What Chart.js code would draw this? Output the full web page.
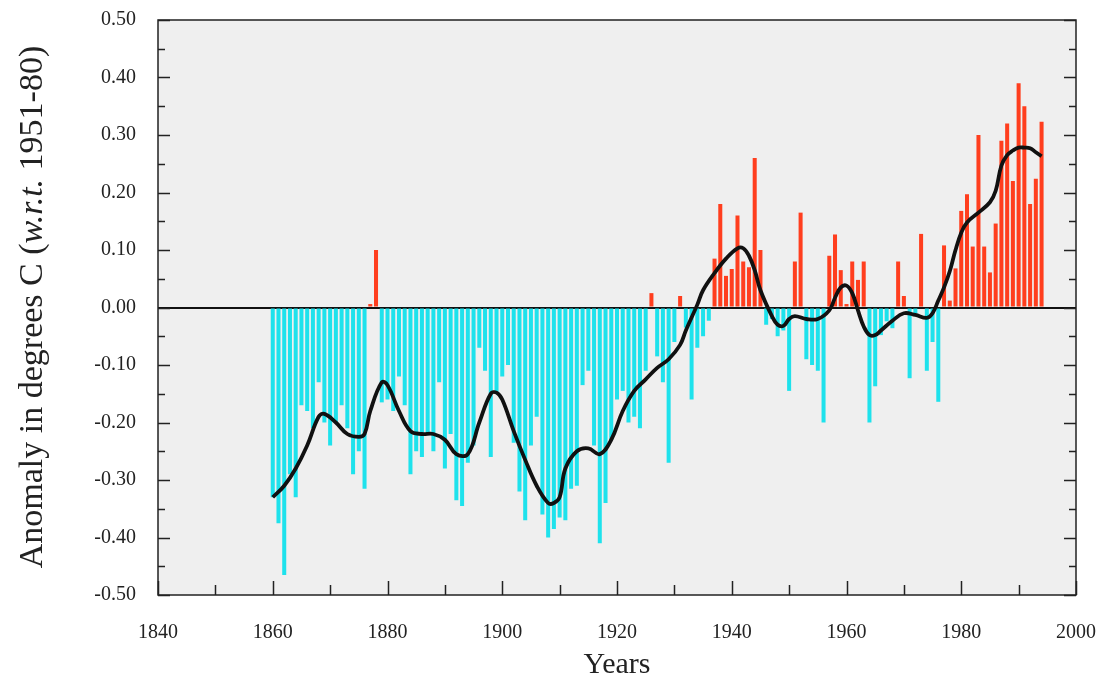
<!DOCTYPE html>
<html>
<head>
<meta charset="utf-8">
<script src="https://cdn.jsdelivr.net/npm/chart.js@4.4.0/dist/chart.umd.min.js"></script>
<style>
    html, body { margin: 0; padding: 0; background: #fff; }
    #wrap { width: 1107px; height: 683px; }
</style>
</head>
<body>
<div id="wrap"><canvas id="graficoAnomalia" width="1107" height="683"></canvas></div>
<script>
// Dados: anomalia anual (1860-1994) e curva suavizada
const firstYear = 1860;
const anomalies = [
    -0.33, -0.375, -0.465, -0.29, -0.33, -0.17, -0.18, -0.21, -0.13, -0.20,   // 1860-1869
    -0.24, -0.20, -0.17, -0.21, -0.29, -0.25, -0.315, 0.006, 0.10, -0.165,    // 1870-1879
    -0.16, -0.18, -0.12, -0.17, -0.29, -0.25, -0.26, -0.22, -0.25, -0.13,     // 1880-1889
    -0.28, -0.22, -0.335, -0.345, -0.27, -0.24, -0.07, -0.11, -0.26, -0.15,   // 1890-1899
    -0.12, -0.10, -0.235, -0.32, -0.37, -0.24, -0.19, -0.36, -0.40, -0.385,   // 1900-1909
    -0.365, -0.37, -0.315, -0.31, -0.135, -0.11, -0.24, -0.41, -0.34, -0.23,  // 1910-1919
    -0.16, -0.145, -0.20, -0.19, -0.21, -0.11, 0.025, -0.085, -0.13, -0.27,   // 1920-1929
    -0.06, 0.02, -0.035, -0.16, -0.07, -0.05, -0.023, 0.085, 0.18, 0.055,     // 1930-1939
    0.067, 0.16, 0.08, 0.07, 0.26, 0.10, -0.03, -0.02, -0.05, -0.04,          // 1940-1949
    -0.145, 0.08, 0.165, -0.09, -0.10, -0.11, -0.20, 0.09, 0.127, 0.065,      // 1950-1959
    0.006, 0.08, 0.048, 0.08, -0.20, -0.137, -0.048, -0.024, -0.036, 0.08,    // 1960-1969
    0.02, -0.123, -0.01, 0.128, -0.11, -0.06, -0.164, 0.108, 0.012, 0.068,    // 1970-1979
    0.168, 0.197, 0.106, 0.30, 0.106, 0.061, 0.146, 0.29, 0.32, 0.22,         // 1980-1989
    0.39, 0.35, 0.18, 0.224, 0.323                                            // 1990-1994
];
const years = anomalies.map((_, i) => firstYear + i);

const smoothYears = [1860, 1862, 1864, 1866, 1868, 1869, 1871, 1873, 1875, 1876, 1877, 1879, 1880, 1882,
    1884, 1886, 1888, 1890, 1892, 1894, 1896, 1898, 1899, 1900, 1902, 1904, 1906, 1908, 1909, 1910,
    1911, 1913, 1915, 1917, 1919, 1921, 1923, 1925, 1927, 1929, 1931, 1932, 1934, 1935, 1937, 1939,
    1941, 1942, 1943, 1944, 1945, 1947, 1948, 1949, 1950, 1951, 1953, 1955, 1957, 1958, 1959, 1960,
    1961, 1962, 1963, 1964, 1965, 1966, 1968, 1970, 1972, 1974, 1975, 1976, 1977, 1978, 1979, 1980,
    1981, 1983, 1985, 1986, 1987, 1988, 1989, 1990, 1991, 1992, 1993, 1994];
const smoothValues = [-0.33, -0.31, -0.28, -0.24, -0.19, -0.185, -0.20, -0.22, -0.225, -0.22, -0.18, -0.13, -0.135, -0.18,
    -0.215, -0.22, -0.22, -0.23, -0.255, -0.255, -0.20, -0.15, -0.148, -0.16, -0.215, -0.265, -0.31, -0.34, -0.34, -0.33,
    -0.28, -0.25, -0.245, -0.255, -0.23, -0.18, -0.145, -0.125, -0.105, -0.09, -0.065, -0.04, 0.005, 0.03, 0.06, 0.085,
    0.103, 0.103, 0.09, 0.065, 0.03, -0.015, -0.03, -0.032, -0.02, -0.015, -0.02, -0.02, -0.005, 0.017, 0.035, 0.038,
    0.025, -0.005, -0.033, -0.048, -0.048, -0.04, -0.023, -0.01, -0.013, -0.018, -0.01, 0.012, 0.035, 0.063, 0.10, 0.13,
    0.148, 0.165, 0.183, 0.203, 0.247, 0.265, 0.273, 0.278, 0.278, 0.277, 0.27, 0.263];

const corPositiva = 'rgb(255, 62, 30)';
const corNegativa = 'rgb(30, 226, 236)';
const fonteSerif = '"Liberation Serif", "DejaVu Serif", "Times New Roman", serif';

// Fundo cinza, moldura e marcas de escala internas
const molduraPlugin = {
    id: 'moldura',
    beforeDraw(chart) {
        const { ctx, chartArea: a } = chart;
        ctx.save();
        ctx.fillStyle = '#efefef';
        ctx.fillRect(a.left, a.top, a.right - a.left, a.bottom - a.top);
        ctx.restore();
    },
    afterDraw(chart) {
        const { ctx, chartArea: a, scales } = chart;
        const x = scales.x, y = scales.y;
        ctx.save();
        ctx.strokeStyle = '#222';
        ctx.lineWidth = 1.5;
        ctx.strokeRect(a.left, a.top, a.right - a.left, a.bottom - a.top);

        ctx.beginPath();
        const yt = y.ticks.map(t => t.value);
        yt.forEach((v, i) => {
            const py = Math.round(y.getPixelForValue(v)) + 0.5;
            ctx.moveTo(a.left, py); ctx.lineTo(a.left + 12, py);
            ctx.moveTo(a.right, py); ctx.lineTo(a.right - 12, py);
            if (i < yt.length - 1) {
                const pm = Math.round(y.getPixelForValue((v + yt[i + 1]) / 2)) + 0.5;
                ctx.moveTo(a.left, pm); ctx.lineTo(a.left + 7, pm);
                ctx.moveTo(a.right, pm); ctx.lineTo(a.right - 7, pm);
            }
        });
        x.ticks.forEach(t => {
            const px = Math.round(x.getPixelForValue(t.value)) + 0.5;
            const len = t.value % 20 === 0 ? 14 : 10;
            ctx.moveTo(px, a.bottom); ctx.lineTo(px, a.bottom - len);
        });
        ctx.stroke();

        // Título do eixo Y com "w.r.t." em itálico
        const partes = [
            { t: 'Anomaly in degrees C (', f: 'normal' },
            { t: 'w.r.t.', f: 'italic' },
            { t: ' 1951-80)', f: 'normal' }
        ];
        const tam = 34;
        let total = 0;
        partes.forEach(p => { ctx.font = p.f + ' ' + tam + 'px ' + fonteSerif; p.w = ctx.measureText(p.t).width; total += p.w; });
        ctx.translate(33, 307);
        ctx.rotate(-Math.PI / 2);
        ctx.fillStyle = '#222';
        ctx.textBaseline = 'middle';
        let pos = -total / 2;
        partes.forEach(p => {
            ctx.font = p.f + ' ' + tam + 'px ' + fonteSerif;
            ctx.fillText(p.t, pos, 0);
            pos += p.w;
        });
        ctx.restore();
    }
};

const ctx = document.getElementById('graficoAnomalia').getContext('2d');
const graficoAnomalia = new Chart(ctx, {
    type: 'bar',
    data: {
        datasets: [
            {
                type: 'line',
                data: smoothYears.map((ano, i) => ({ x: ano, y: smoothValues[i] })),
                borderColor: '#111',
                borderWidth: 3.8,
                pointRadius: 0,
                tension: 0.4,
                order: 0
            },
            {
                type: 'bar',
                data: years.map((ano, i) => ({ x: ano, y: anomalies[i] })),
                backgroundColor: c => (c.raw && c.raw.y >= 0 ? corPositiva : corNegativa),
                barPercentage: 0.7,
                categoryPercentage: 1,
                order: 1
            }
        ]
    },
    options: {
        responsive: false,
        animation: false,
        devicePixelRatio: 1,
        layout: { padding: { top: 20, right: 31, left: 0, bottom: 0 } },
        plugins: { legend: { display: false }, tooltip: { enabled: false } },
        scales: {
            x: {
                type: 'linear',
                min: 1840,
                max: 2000,
                offset: false,
                grid: { display: false, drawTicks: false },
                border: { display: false },
                ticks: {
                    stepSize: 10,
                    autoSkip: false,
                    maxRotation: 0,
                    padding: 26,
                    color: '#222',
                    font: { family: fonteSerif, size: 20 },
                    callback: v => (v % 20 === 0 ? String(v) : '')
                },
                title: {
                    display: true,
                    text: 'Years',
                    color: '#222',
                    font: { family: fonteSerif, size: 30 },
                    padding: { top: 0, bottom: 0 }
                },
                afterFit: s => {
                    s.height = 88;
                    s.paddingLeft = 0;
                    s.paddingRight = 0;
                }
            },
            y: {
                min: -0.5,
                max: 0.5,
                grid: {
                    drawTicks: false,
                    color: c => (Math.abs(c.tick.value) < 1e-9 ? '#111' : 'transparent'),
                    lineWidth: 2
                },
                border: { display: false },
                ticks: {
                    stepSize: 0.1,
                    padding: 22,
                    color: '#222',
                    font: { family: fonteSerif, size: 20 },
                    callback: v => v.toFixed(2)
                },
                afterFit: s => {
                    s.width = 158;
                    s.paddingTop = 0;
                    s.paddingBottom = 0;
                }
            }
        }
    },
    plugins: [molduraPlugin]
});
</script>
</body>
</html>
